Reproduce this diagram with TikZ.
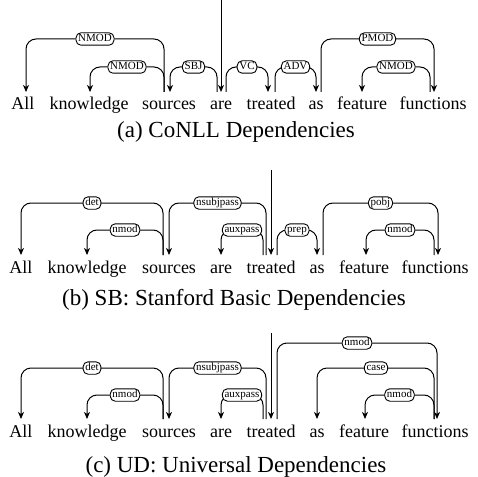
\documentclass[tikz,border=0pt]{standalone}
\usepackage{fontspec}
\setmainfont{Liberation Serif}
\usetikzlibrary{arrows.meta}
\begin{document}
\begin{tikzpicture}[x=1bp,y=-1bp,
  word/.style={anchor=base, inner sep=0pt, outer xsep=0pt, outer ysep=5bp, text height=13bp, text depth=4bp, font=\fontsize{18bp}{20bp}\selectfont},
  dep/.style={draw, line width=1bp, rounded corners=10bp, -{Stealth[length=7bp,width=6bp,inset=2bp]}},
  lab/.style={draw, fill=white, rounded corners=5bp, inner xsep=2.2bp, inner ysep=1.2bp, text height=7.7bp, text depth=2.3bp, line width=0.9bp, font=\fontsize{11bp}{12bp}\selectfont},
  captext/.style={anchor=base, inner sep=0pt, font=\fontsize{23bp}{26bp}\selectfont}]
\useasboundingbox (0,0) rectangle (477,477);

% ---------- (a) CoNLL ----------
\node[word] (a1) at (23,110) {All};
\node[word] (a2) at (89,110) {knowledge};
\node[word] (a3) at (169,110) {sources};
\node[word] (a4) at (221,110) {are};
\node[word] (a5) at (271,110) {treated};
\node[word] (a6) at (316,110) {as};
\node[word] (a7) at (362,110) {feature};
\node[word] (a8) at (433,110) {functions};
\coordinate (aroot) at (221,0);
\draw[dep] (aroot) -- (a4.north);
\draw[dep] ([xshift=-5bp]a3.north) |- (95,39) node[lab]{NMOD} -| ([xshift=3bp]a1.north);
\draw[dep] ([xshift=-5bp]a3.north) |- (127,67) node[lab]{NMOD} -| ([xshift=1bp]a2.north);
\draw[dep] ([xshift=-4bp]a4.north) |- (193.5,67) node[lab]{SBJ} -| ([xshift=1bp]a3.north);
\draw[dep] ([xshift=5bp]a4.north) |- (247,67) node[lab]{VC} -| ([xshift=-3bp]a5.north);
\draw[dep] ([xshift=4bp]a5.north) |- (295.5,67) node[lab]{ADV} -| (a6.north);
\draw[dep] ([xshift=5bp]a6.north) |- (377.5,39) node[lab]{PMOD} -| ([xshift=1bp]a8.north);
\draw[dep] ([xshift=-3bp]a8.north) |- (396,67) node[lab]{NMOD} -| (a7.north);
\node[captext] (capa) at (236,138) {(a) CoNLL Dependencies};

% ---------- (b) Stanford Basic ----------
\node[word] (b1) at (21,273) {All};
\node[word] (b2) at (87,273) {knowledge};
\node[word] (b3) at (169,273) {sources};
\node[word] (b4) at (221,273) {are};
\node[word] (b5) at (271,273) {treated};
\node[word] (b6) at (317,273) {as};
\node[word] (b7) at (364,273) {feature};
\node[word] (b8) at (435,273) {functions};
\coordinate (broot) at (271,170);
\draw[dep] (broot) -- (b5.north);
\draw[dep] ([xshift=-6bp]b3.north) |- (92,203) node[lab]{det} -| (b1.north);
\draw[dep] ([xshift=-6bp]b3.north) |- (125,230) node[lab]{nmod} -| (b2.north);
\draw[dep] ([xshift=-5bp]b5.north) |- (217.5,203) node[lab]{nsubjpass} -| (b3.north);
\draw[dep] ([xshift=-8bp]b5.north) |- (242,230) node[lab]{auxpass} -| (b4.north);
\draw[dep] ([xshift=6bp]b5.north) |- (297,230) node[lab]{prep} -| (b6.north);
\draw[dep] ([xshift=6bp]b6.north) |- (380.5,203) node[lab]{pobj} -| ([xshift=3bp]b8.north);
\draw[dep] ([xshift=-1bp]b8.north) |- (400,230) node[lab]{nmod} -| ([xshift=2bp]b7.north);
\node[captext] (capb) at (234,305) {(b) SB: Stanford Basic Dependencies};

% ---------- (c) Universal ----------
\node[word] (c1) at (21,437) {All};
\node[word] (c2) at (87,437) {knowledge};
\node[word] (c3) at (169,437) {sources};
\node[word] (c4) at (221,437) {are};
\node[word] (c5) at (271,437) {treated};
\node[word] (c6) at (317,437) {as};
\node[word] (c7) at (364,437) {feature};
\node[word] (c8) at (435,437) {functions};
\coordinate (croot) at (271,333);
\draw[dep] (croot) -- (c5.north);
\draw[dep] ([xshift=-6bp]c3.north) |- (92,368) node[lab]{det} -| (c1.north);
\draw[dep] ([xshift=-6bp]c3.north) |- (125,395) node[lab]{nmod} -| (c2.north);
\draw[dep] ([xshift=-5bp]c5.north) |- (217.5,368) node[lab]{nsubjpass} -| (c3.north);
\draw[dep] ([xshift=-8bp]c5.north) |- (242,395) node[lab]{auxpass} -| (c4.north);
\draw[dep] ([xshift=6bp]c5.north) |- (357,343) node[lab]{nmod} -| ([xshift=2bp]c8.north);
\draw[dep] ([xshift=-1bp]c8.north) |- (376,368) node[lab]{case} -| (c6.north);
\draw[dep] ([xshift=-1bp]c8.north) |- (399.5,395) node[lab]{nmod} -| ([xshift=1bp]c7.north);
\node[captext] (capc) at (236,472) {(c) UD: Universal Dependencies};
\end{tikzpicture}
\end{document}
